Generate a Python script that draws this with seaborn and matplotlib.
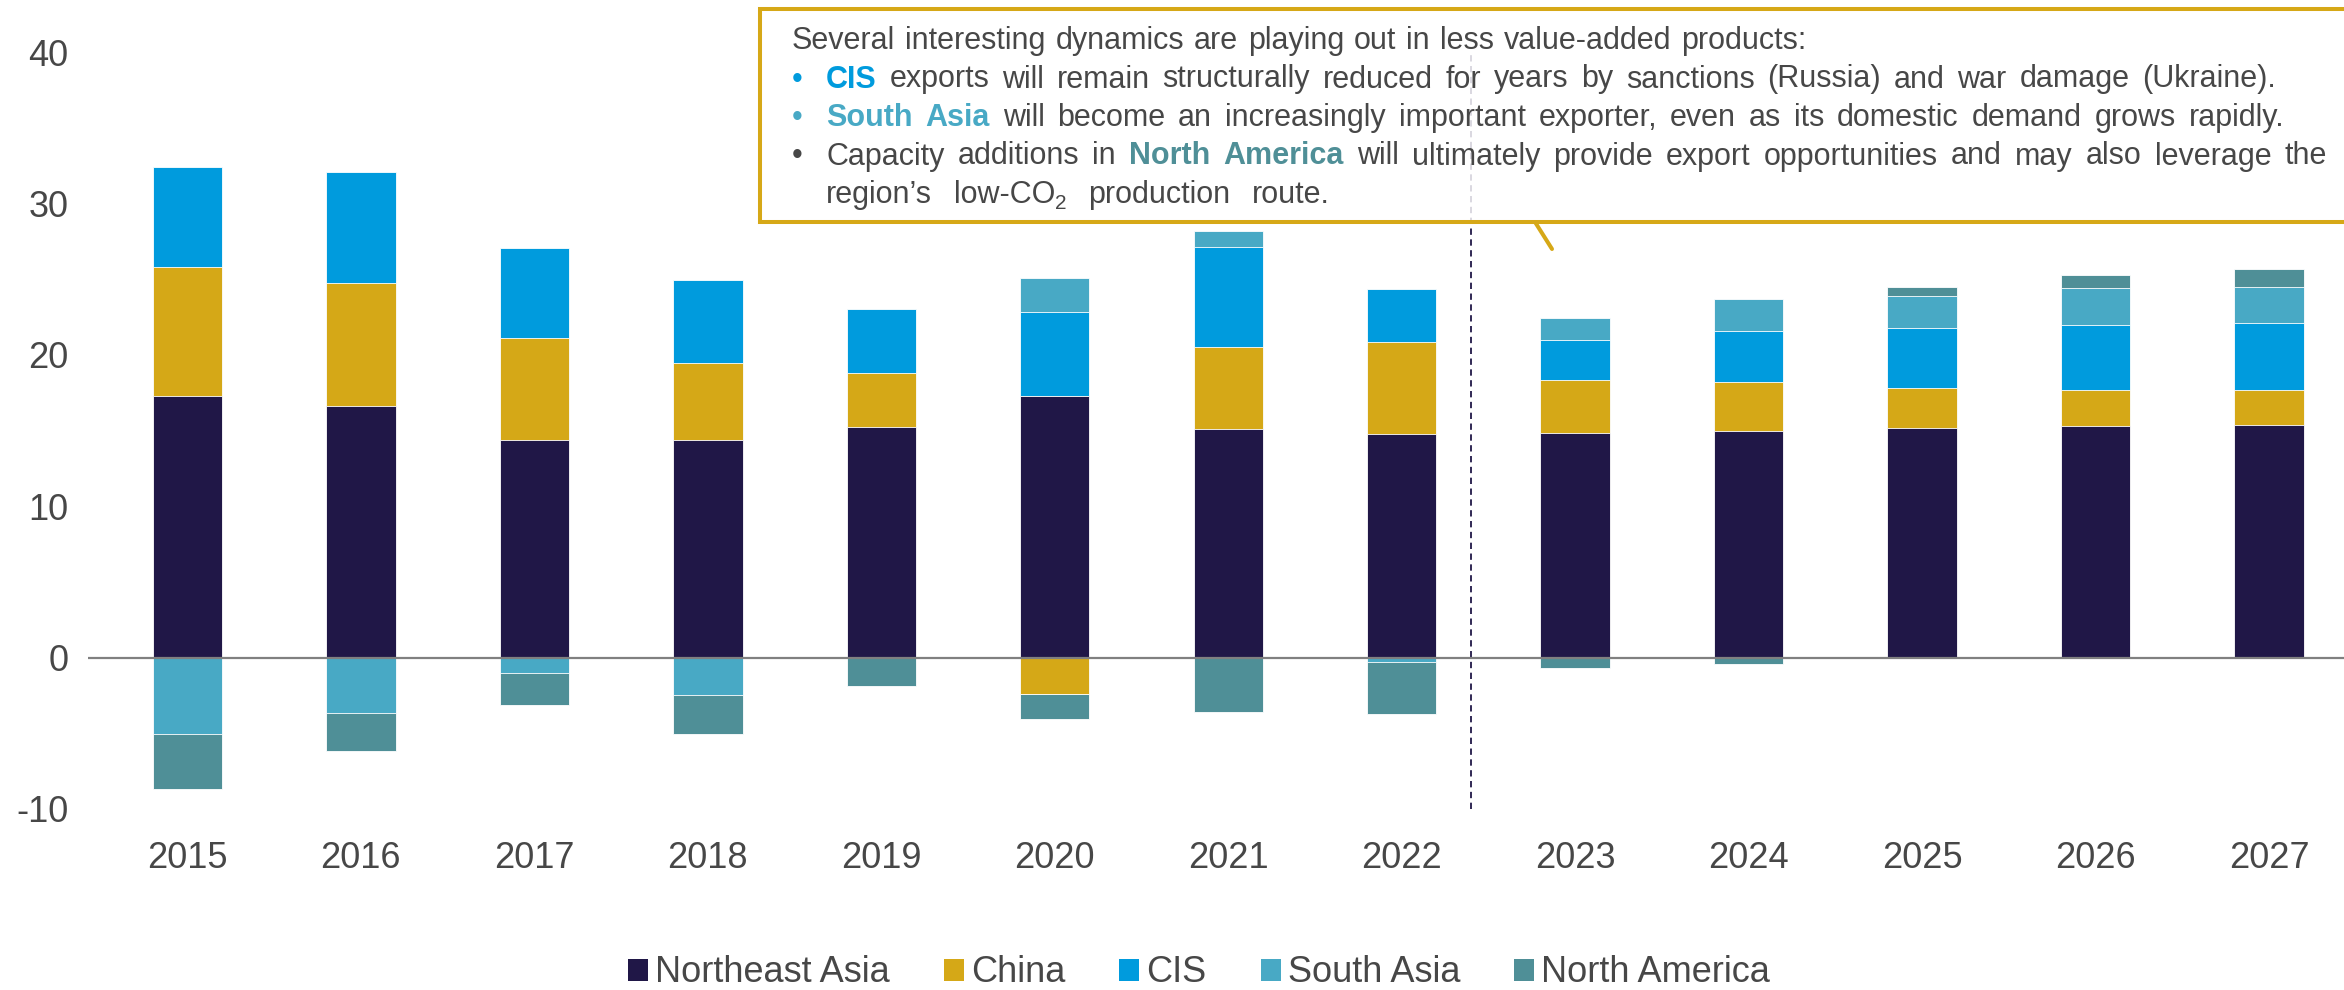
import matplotlib
matplotlib.use("Agg")
import matplotlib.pyplot as plt
from matplotlib.patches import Patch, Rectangle
from matplotlib.lines import Line2D
import numpy as np
import seaborn as sns

# ---- data (net exports, Mt) ----
years = ["2015", "2016", "2017", "2018", "2019", "2020", "2021",
         "2022", "2023", "2024", "2025", "2026", "2027"]
regions = ["Northeast Asia", "China", "CIS", "South Asia", "North America"]
northeast_asia = [17.3, 16.65, 14.4, 14.4, 15.25, 17.25, 15.1, 14.75, 14.85, 15.0, 15.15, 15.3, 15.35]
china = [8.5, 8.1, 6.7, 5.05, 3.55, -2.4, 5.4, 6.1, 3.5, 3.2, 2.65, 2.4, 2.35]
cis = [6.6, 7.3, 5.95, 5.5, 4.2, 5.55, 6.6, 3.5, 2.65, 3.35, 3.95, 4.3, 4.4]
south_asia = [-5.05, -3.65, -1.05, -2.5, 0.0, 2.25, 1.1, -0.3, 1.45, 2.15, 2.15, 2.4, 2.4]
north_america = [-3.65, -2.5, -2.1, -2.55, -1.85, -1.65, -3.6, -3.4, -0.7, -0.45, 0.55, 0.9, 1.2]
y_ticks = [-10, 0, 10, 20, 30, 40]

colors = ["#201747", "#d5a817", "#009bdd", "#48a9c5", "#4f8f97"]
text_col = "#474747"

sns.set_theme(style="white")
plt.rcParams["font.family"] = ["Liberation Sans", "DejaVu Sans"]
plt.rcParams["axes.unicode_minus"] = False

W, H = 2344, 990
fig = plt.figure(figsize=(W / 100, H / 100), dpi=100)
ax = fig.add_axes([88 / W, 1 - 809 / H, 1 - 88 / W, (809 - 52) / H])

series = np.array([northeast_asia, china, cis, south_asia, north_america])
pos_cum = np.cumsum(np.clip(series, 0, None), axis=0)
neg_cum = np.cumsum(np.clip(series, None, 0), axis=0)

# stacked bars: draw cumulative totals from the outermost layer inwards
for k in range(len(regions) - 1, -1, -1):
    for cum in (pos_cum, neg_cum):
        sns.barplot(x=years, y=cum[k], order=years, color=colors[k],
                    saturation=1, width=0.4, errorbar=None, ax=ax,
                    edgecolor="white", linewidth=0.6, zorder=2)

ax.axhline(0, color="#808080", lw=1.6, zorder=3)
ax.plot([7.4, 7.4], [-10, 40], color="#201747", lw=1.3,
        ls=(0, (3.5, 2.5)), zorder=1)

ax.set_xlim(-0.573, 12.432)
ax.set_ylim(-10, 40)
ax.set_yticks(y_ticks)
ax.set_yticklabels([str(v) for v in y_ticks])
ax.set_xlabel("")
ax.set_ylabel("")
for s in ax.spines.values():
    s.set_visible(False)
ax.tick_params(axis="y", length=0, pad=14, labelsize=26, labelcolor=text_col)
ax.tick_params(axis="x", length=0, pad=23, labelsize=26, labelcolor=text_col)

# legend
handles = [Patch(facecolor=c, edgecolor="none") for c in colors]
fig.legend(handles, regions, loc="center", bbox_to_anchor=(1199 / W, 1 - 973 / H),
           ncol=5, frameon=False, fontsize=26, handlelength=0.55, handleheight=0.55,
           handletextpad=0.2, columnspacing=1.5, labelcolor=text_col, borderaxespad=0,
           borderpad=0.1)

# ---- callout box ----
gold = "#d6a817"
box = Rectangle((760 / W, 1 - 222 / H), (2400 - 760) / W, (222 - 9) / H,
                transform=fig.transFigure, facecolor=(1, 1, 1, 0.82),
                edgecolor=gold, linewidth=2.9, zorder=5)
fig.patches.append(box)
fig.add_artist(Line2D([1535 / W, 1552 / W], [1 - 222 / H, 1 - 249 / H],
                      transform=fig.transFigure, color=gold, lw=2.9, zorder=5))

fig.canvas.draw()
renderer = fig.canvas.get_renderer()
FS = 22
styles = {
    "n": dict(color=text_col, fontweight="normal", fontsize=FS),
    "cis": dict(color=colors[2], fontweight="bold", fontsize=FS),
    "sa": dict(color=colors[3], fontweight="bold", fontsize=FS),
    "na": dict(color=colors[4], fontweight="bold", fontsize=FS),
    "sub": dict(color=text_col, fontweight="normal", fontsize=15),
}


def put(x, y, s, style, dy=0):
    t = fig.text(x / W, 1 - (y + dy) / H, s, ha="left", va="baseline",
                 zorder=6, **styles[style])
    return t.get_window_extent(renderer).width


def measure(s, style):
    t = fig.text(0, 0, s, **styles[style])
    w = t.get_window_extent(renderer).width
    t.remove()
    return w


def write_line(tokens, x, y, right):
    # tokens: (text, style, joined_to_next, dy); word gaps spread so the line ends at `right`
    gaps = sum(1 for tk in tokens[:-1] if not tk[2])
    total = sum(measure(tk[0], tk[1]) for tk in tokens)
    sp = (right - x - total) / gaps
    for tk in tokens:
        w = put(x, y, tk[0], tk[1], tk[3])
        x += w + (0 if tk[2] else sp)


def words(s, style="n"):
    return [(w, style, False, 0) for w in s.split()]


xl, xb = 792, 826
base = [49, 87.5, 126, 164.5, 203]

write_line(words("Several interesting dynamics are playing out in less value-added products:"),
           xl, base[0], right=1806)

fig.text(xl / W, 1 - base[1] / H, "\u2022", color=colors[2], fontsize=FS, va="baseline", zorder=6)
write_line(words("CIS", "cis") +
           words("exports will remain structurally reduced for years by sanctions (Russia) and war damage (Ukraine)."),
           xb, base[1], right=2276)

fig.text(xl / W, 1 - base[2] / H, "\u2022", color=colors[3], fontsize=FS, va="baseline", zorder=6)
write_line(words("South Asia", "sa") +
           words("will become an increasingly important exporter, even as its domestic demand grows rapidly."),
           xb, base[2], right=2284)

fig.text(xl / W, 1 - base[3] / H, "\u2022", color=text_col, fontsize=FS, va="baseline", zorder=6)
write_line(words("Capacity additions in") + words("North America", "na") +
           words("will ultimately provide export opportunities and may also leverage the"),
           xb, base[3], right=2327)

write_line([("region\u2019s", "n", False, 0), ("low-CO", "n", True, 0), ("2", "sub", False, 6),
            ("production", "n", False, 0), ("route.", "n", False, 0)],
           xb, base[4], right=1330)

fig.savefig("out.png", dpi=100)
